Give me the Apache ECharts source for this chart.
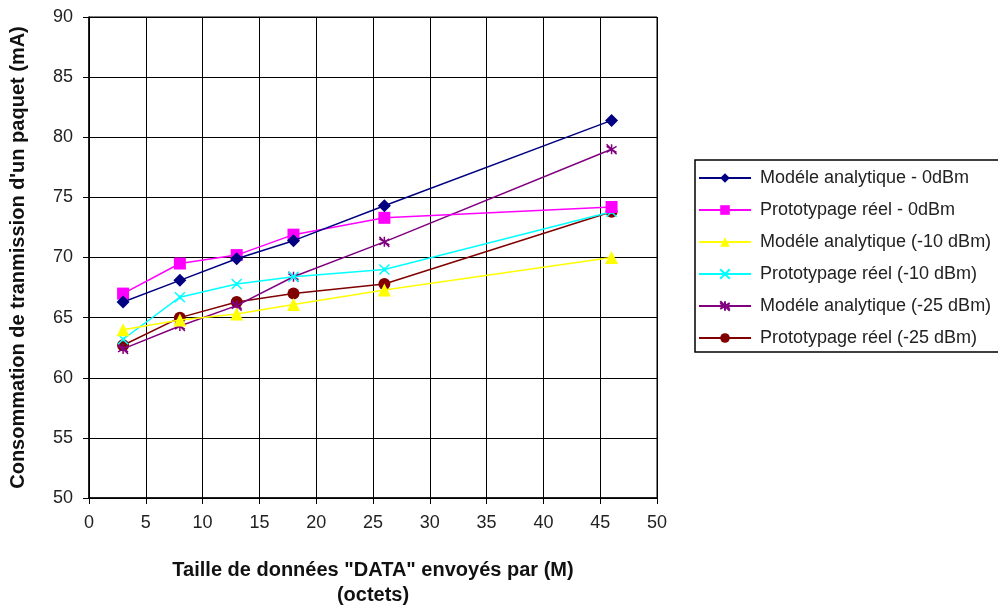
<!DOCTYPE html>
<html>
<head>
<meta charset="utf-8">
<script src="https://cdn.jsdelivr.net/npm/echarts@6/dist/echarts.min.js"></script>
<style>
  html, body { margin: 0; padding: 0; background: #fff; }
  #chart { width: 998px; height: 613px; }
</style>
</head>
<body>
<div id="chart"></div>
<script>
// packet sizes (octets)
const xValues = [3, 8, 13, 18, 26, 46];

const seriesNames = [
  'Modéle analytique - 0dBm',
  'Prototypage réel - 0dBm',
  'Modéle analytique (-10 dBm)',
  'Prototypage réel (-10 dBm)',
  'Modéle analytique (-25 dBm)',
  'Prototypage réel (-25 dBm)'
];

const analytic0 = [66.3, 68.1, 69.9, 71.4, 74.3, 81.4];
const proto0 = [67.0, 69.5, 70.2, 71.9, 73.3, 74.2];
const analytic10 = [64.0, 64.8, 65.3, 66.1, 67.3, 70.0];
const proto10 = [63.2, 66.7, 67.8, 68.4, 69.0, 73.8];
const analytic25 = [62.4, 64.3, 66.0, 68.4, 71.3, 79.0];
const proto25 = [62.7, 65.0, 66.3, 67.0, 67.8, 73.8];

const colors = ['#000080', '#ff00ff', '#ffff00', '#00ffff', '#800080', '#800000'];
const symbols = [
  'diamond',
  'rect',
  'triangle',
  'path://M0,0L10,10M10,0L0,10M5,3L5,7',
  'path://M5,0L5,10M0,2L10,8M0,8L10,2M0,0L10,10',
  'circle'
];
const symbolSizes = [13, 12, 13, 10, 10, 12];

function pairs(ys) {
  return xValues.map((x, i) => [x, ys[i]]);
}

const allData = [analytic0, proto0, analytic10, proto10, analytic25, proto25];

let series = [];
for (let i = 0; i < allData.length; i++) {
  const lineSym = symbols[i].indexOf('path://') === 0;
  series.push({
    name: seriesNames[i],
    type: 'line',
    data: pairs(allData[i]),
    symbol: symbols[i],
    symbolSize: symbolSizes[i],
    showAllSymbol: true,
    lineStyle: { color: colors[i], width: 1.5 },
    itemStyle: {
      color: lineSym ? 'rgba(0,0,0,0)' : colors[i],
      borderColor: colors[i],
      borderWidth: lineSym ? 1.5 : 0
    },
    emphasis: { disabled: true },
    z: 10 - i
  });
}

const chart = echarts.init(document.getElementById('chart'));
chart.setOption({
  animation: false,
  backgroundColor: '#ffffff',
  textStyle: { fontFamily: 'Liberation Sans, Arial, sans-serif' },
  grid: { left: 89, right: 341, top: 17, bottom: 108, show: true, borderColor: '#000', borderWidth: 1 },
  legend: {
    orient: 'vertical',
    left: 693,
    top: 164,
    itemGap: 14,
    itemWidth: 52,
    itemHeight: 12,
    data: seriesNames,
    textStyle: { fontSize: 18, color: '#222', fontFamily: 'Liberation Sans, Arial, sans-serif', padding: [0, 0, 0, 4] }
  },
  graphic: [{
    type: 'rect',
    shape: { x: 695, y: 160, width: 330, height: 192 },
    style: { fill: 'none', stroke: '#000', lineWidth: 1.5 },
    z: -1
  }],
  xAxis: {
    type: 'value',
    min: 0,
    max: 50,
    interval: 5,
    name: 'Taille de données "DATA" envoyés par (M)\n(octets)',
    nameLocation: 'middle',
    nameGap: 60,
    nameTextStyle: { fontSize: 20, fontWeight: 'bold', color: '#111', lineHeight: 25 },
    axisLine: { onZero: false, lineStyle: { color: '#000', width: 1.5 } },
    axisTick: { show: true, length: 6, lineStyle: { color: '#000' } },
    axisLabel: { fontSize: 18, color: '#222', margin: 16 },
    splitLine: { show: true, lineStyle: { color: '#000', width: 1 } }
  },
  yAxis: {
    type: 'value',
    min: 50,
    max: 90,
    interval: 5,
    name: "Consommation de tranmission d'un paquet (mA)",
    nameLocation: 'middle',
    nameGap: 61,
    nameTextStyle: { fontSize: 20, fontWeight: 'bold', color: '#111' },
    axisLine: { onZero: false, lineStyle: { color: '#000', width: 1.5 } },
    axisTick: { show: true, length: 6, lineStyle: { color: '#000' } },
    axisLabel: { fontSize: 18, color: '#222', margin: 16 },
    splitLine: { show: true, lineStyle: { color: '#000', width: 1 } }
  },
  series: series
});
</script>
</body>
</html>
